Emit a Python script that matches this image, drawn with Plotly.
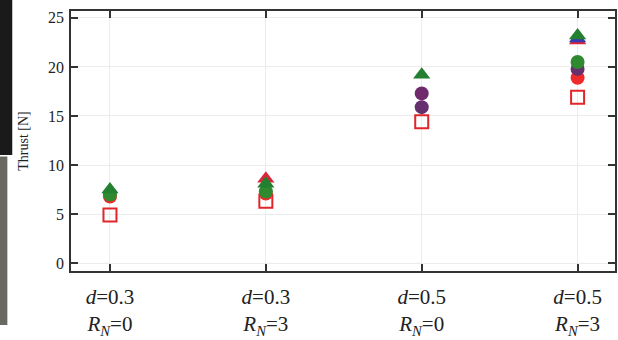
import plotly.graph_objects as go

categories = ["d=0.3, RN=0", "d=0.3, RN=3", "d=0.5, RN=0", "d=0.5, RN=3"]
tick_text = [
    "<i>d</i>=0.3<br><i>R</i><sub><i>N</i></sub>=0",
    "<i>d</i>=0.3<br><i>R</i><sub><i>N</i></sub>=3",
    "<i>d</i>=0.5<br><i>R</i><sub><i>N</i></sub>=0",
    "<i>d</i>=0.5<br><i>R</i><sub><i>N</i></sub>=3",
]
y_ticks = [0, 5, 10, 15, 20, 25]

# None = point not visible in the reference (hidden behind other markers)
square_red = [4.9, 6.3, 14.4, 16.9]
circle_red = [6.8, 7.1, None, 18.9]
circle_purple = [None, None, 15.9, 19.8]
circle_violet = [None, None, 17.3, None]
circle_green = [7.0, 7.3, None, 20.5]
tri_red = [None, 8.6, None, 22.7]
tri_blue = [None, None, None, 22.9]
tri_green = [7.5, 8.1, 19.2, 23.2]

xs = list(range(len(categories)))
fig = go.Figure()

def add(y, symbol, color, size, lw=0):
    marker = dict(symbol=symbol, size=size, color=color,
                  line=dict(width=lw, color=color))
    fig.add_trace(go.Scatter(x=xs, y=y, mode="markers", marker=marker,
                             showlegend=False, hoverinfo="y"))

add(square_red, "square-open", "#e0262b", 13, lw=2)
add(circle_red, "circle", "#ee2a2a", 14)
add(circle_purple, "circle", "#66306f", 14)
add(circle_violet, "circle", "#6e2a6a", 14)
add(circle_green, "circle", "#2f8a2f", 14)
add(tri_red, "triangle-up", "#d9263a", 15)
add(tri_blue, "triangle-up", "#3a3ab0", 15)
add(tri_green, "triangle-up", "#228030", 15)

serif = "Liberation Serif, Times New Roman, serif"
axis_common = dict(showline=True, linecolor="#333333", linewidth=1.5,
                   mirror="ticks", ticks="inside", ticklen=7, tickwidth=1.5,
                   tickcolor="#333333", showgrid=True, gridcolor="#ececec",
                   gridwidth=1, zeroline=False)

fig.update_xaxes(range=[-0.25, 3.24], tickvals=xs, ticktext=tick_text,
                 ticklabelstandoff=6,
                 tickfont=dict(family=serif, size=21, color="#222"),
                 **axis_common)
fig.update_yaxes(range=[-0.8, 25.7], tickvals=y_ticks,
                 ticklabelstandoff=2,
                 tickfont=dict(family=serif, size=16, color="#222"),
                 title=dict(text="Thrust [N]", standoff=16,
                            font=dict(family=serif, size=14, color="#222")),
                 **axis_common)

# scan artefact bands at the left edge of the reference image
fig.add_shape(type="rect", xref="paper", yref="paper",
              x0=-0.131, x1=-0.108, y0=0.446, y1=1.05,
              fillcolor="#1a1a1a", line=dict(width=0), layer="below")
fig.add_shape(type="rect", xref="paper", yref="paper",
              x0=-0.131, x1=-0.117, y0=-0.208, y1=0.44,
              fillcolor="#6a6862", line=dict(width=0), layer="below")

fig.update_layout(width=618, height=340, margin=dict(l=71, r=1, t=11, b=69),
                  plot_bgcolor="white", paper_bgcolor="white")

fig.write_html("out.html")
